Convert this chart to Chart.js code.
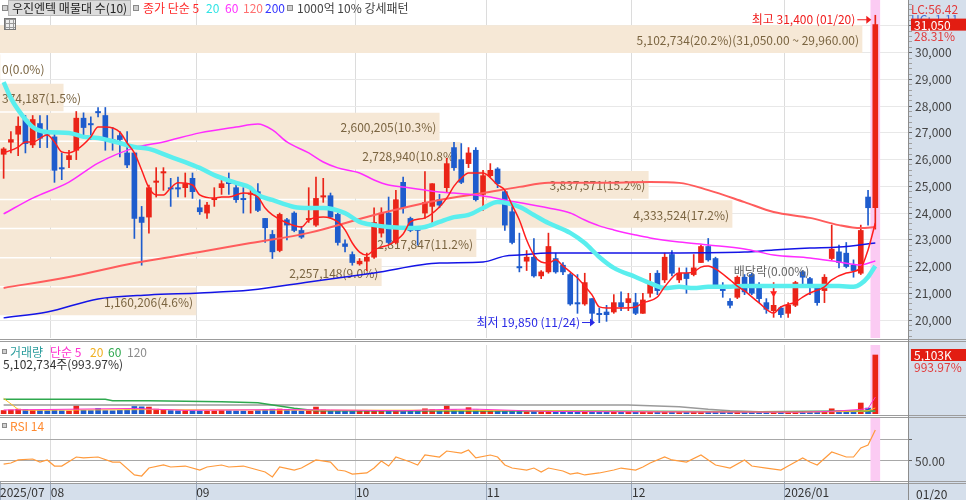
<!DOCTYPE html>
<html>
<head>
<meta charset="utf-8">
<script src="https://cdn.jsdelivr.net/npm/chart.js@4.4.1/dist/chart.umd.min.js"></script>
<style>
  body { margin: 0; width: 966px; height: 500px; position: relative; overflow: hidden; background: #fff;
         font-family: "Liberation Sans Narrow", "Noto Sans CJK KR", sans-serif; }
  canvas { position: absolute; left: 0; }
  .abs { position: absolute; white-space: nowrap; }
  .hline { position: absolute; left: 0; width: 966px; height: 1px; background: #9c9c9c; z-index: 5; }
  .sq { position: absolute; width: 4px; height: 4px; border: 1px solid #8a8a8a; background: #d0d0d0; }
  .hd { position: absolute; top: 1px; font-size: 12px; line-height: 14px; white-space: nowrap; }
</style>
</head>
<body>
<div class="abs" style="left:908px;top:0;width:58px;height:500px;background:#d5dfeb"></div>
<div class="abs" style="left:0;top:483px;width:966px;height:17px;background:#d5dfeb"></div>

<canvas id="bg" width="966" height="340" style="top:0"></canvas>
<canvas id="price" width="966" height="340" style="top:0"></canvas>
<canvas id="vol" width="966" height="74" style="top:342px"></canvas>
<canvas id="rsi" width="966" height="83" style="top:417px"></canvas>

<div class="hline" style="top:339px"></div>
<div class="hline" style="top:341px"></div>
<div class="hline" style="top:415px"></div>
<div class="hline" style="top:417px"></div>
<div class="hline" style="top:481px"></div>
<div class="hline" style="top:483px"></div>
<div class="abs" style="left:908px;top:0;width:1px;height:500px;background:#8c8c8c;z-index:5"></div>

<div class="sq" style="left:2px;top:5px"></div>
<div class="hd" style="left:8px;top:0;height:14px;padding:0 3px;background:#dcdcdc;border:1px solid #b8b8b8;color:#222">우진엔텍 매물대 수(10)</div>
<div class="sq" style="left:133px;top:5px"></div>
<div class="hd" style="left:143px;color:#ff2a2a">종가 단순 5</div>
<div class="hd" style="left:206px;color:#30e4e4">20</div>
<div class="hd" style="left:225px;color:#ff30ff">60</div>
<div class="hd" style="left:243px;color:#ff7070">120</div>
<div class="hd" style="left:265px;color:#3434ff">200</div>
<div class="sq" style="left:287px;top:5px"></div>
<div class="hd" style="left:297px;color:#444">1000억 10% 강세패턴</div>
<div class="abs" style="left:4px;top:18px;width:10px;height:10px;border:1px solid #777;background:#eee;
  background-image:linear-gradient(#999 1px,transparent 1px),linear-gradient(90deg,#999 1px,transparent 1px);background-size:4px 4px"></div>
<div class="abs" style="left:916px;top:485px;font-size:12px;color:#333">01/20</div>

<script>
// month boundaries on the index axis and their labels
const monthTicks = [-0.5, 6.5, 26.5, 48.5, 66.5, 86.5, 107.5];
const monthLabels = ['2025/07', '08', '09', '10', '11', '12', '2026/01'];

// daily candles 2025/07/24 .. 2026/01/20
const openP = [
  26200,26650,26950,27500,26550,27350,27050,26850,25700,26000,
  26350,27550,27350,27800,27650,26750,26900,26250,26250,23850,
  23850,25150,25500,24950,24950,24950,25300,24200,24000,24500,
  24950,25250,24950,24550,24700,24800,23800,23200,22600,23750,
  24000,23350,23750,23550,24600,24650,23950,22850,22450,22100,
  22200,22350,23250,24000,22900,25150,23800,23450,24000,24250,
  24500,24950,26450,26000,25850,26350,24700,25400,25650,24800,
  24050,22000,22200,22350,21650,21800,22300,22050,21700,20650,
  20600,20800,20250,20300,20300,20650,20650,20650,20250,21000,
  21750,21500,22450,21500,21750,21700,22150,22750,22300,21250,
  20700,20850,21600,21700,21200,20650,20350,20450,20250,20550,
  21800,21550,21250,21100,22300,22550,22500,22050,21750,24600,
  24200];
const highP = [
  26450,27050,27600,27650,27650,27650,27650,27050,26250,26350,
  27800,27750,27600,27950,27950,27200,27050,27050,26250,24250,
  25050,25700,25700,25300,25350,25500,25500,24500,24400,24950,
  25250,25500,25100,24950,24950,25100,23800,23350,24000,23800,
  24050,23500,24950,25350,25300,24750,24000,23000,22550,22300,
  22500,24200,24200,24600,24850,25350,23850,23500,25550,25100,
  24700,26050,26650,26600,26450,26450,25600,25850,25700,24850,
  24300,23250,22600,23050,21850,23250,22500,22150,21750,21700,
  21750,20800,20450,20550,20950,21050,21000,21000,21000,21750,
  21850,22500,22600,21950,21950,22450,22800,23050,22350,21400,
  20800,21650,21700,21750,21400,20800,21400,20500,20650,21450,
  21850,21600,21300,21700,23550,22800,22900,22250,23550,24850,
  31400];
const lowP = [
  25300,26250,26150,26250,26450,26450,26450,25150,25250,25700,
  26000,26850,26750,27600,26350,26350,26100,25700,23050,22050,
  23250,24600,24850,24250,24600,24600,24550,23950,23800,24250,
  24700,24700,24400,24000,24000,24050,22900,22300,22550,23000,
  23300,23050,23650,23500,24400,23800,22800,22550,22050,22050,
  21850,22300,23100,22850,22850,24000,23300,22800,23800,23500,
  24200,24800,25600,25100,25700,24450,24100,25350,24950,23350,
  22850,21800,21850,21600,21550,21750,21750,21700,20550,20250,
  20550,19850,19900,19950,20250,20350,20350,20200,20250,20850,
  20950,21400,21650,21400,21000,21650,22150,22200,21200,20850,
  20450,20800,20950,20950,20650,20250,20100,20100,20100,20500,
  21250,20950,20550,20650,22250,21950,21950,21600,21700,23550,
  23400];
const closeP = [
  26400,26750,27250,26600,27500,26800,26950,25600,25650,26150,
  27550,27200,27300,27750,26750,26650,26750,25800,23800,23650,
  24950,25200,25550,24900,24900,25100,24800,24050,24300,24550,
  25100,25100,24500,24500,24750,24100,23450,22550,23950,23550,
  23350,23100,23800,24550,24650,23850,22900,22750,22150,22200,
  22350,23650,24000,22900,24500,24200,23350,23350,24400,25100,
  24300,25850,25700,25150,26250,24500,25400,25600,25100,23550,
  22900,21950,22350,21650,21800,22750,21800,21800,20600,20600,
  21400,20250,20200,20200,20650,20500,20800,20250,20750,21400,
  21100,22350,21750,21750,21550,21950,22750,22250,21250,21100,
  20550,21600,21050,21000,20800,20400,20550,20200,20550,21400,
  21600,21250,20650,21600,22650,22150,22000,21850,23350,24200,
  31050];
const volume = [
  300000,350000,420000,380000,330000,300000,280000,320000,280000,260000,
  700000,320000,300000,480000,300000,280000,320000,350000,650000,620000,
  600000,420000,350000,300000,280000,300000,280000,260000,250000,260000,
  300000,280000,260000,250000,240000,300000,350000,420000,430000,400000,
  300000,250000,280000,600000,350000,300000,280000,250000,240000,230000,
  250000,300000,280000,260000,300000,280000,250000,240000,450000,380000,
  250000,700000,350000,300000,550000,350000,300000,280000,250000,300000,
  280000,250000,200000,220000,200000,260000,200000,190000,230000,220000,
  200000,220000,200000,180000,200000,170000,160000,170000,160000,200000,
  190000,220000,180000,170000,160000,170000,200000,180000,170000,160000,
  150000,180000,160000,150000,150000,140000,160000,150000,140000,170000,
  160000,150000,160000,170000,450000,250000,200000,180000,950000,513370,
  5102734];

// moving averages: [candle index, value]
const ma5 = [[0,26250],[2,26470],[3,26660],[4,26660],[6,26920],[7,26660],[8,26290],[9,26250],[10,26360],[12,26850],[13,27220],[14,27220],[16,27030],[17,26620],[18,26250],[19,25610],[20,24940],[21,24680],[22,24680],[23,24940],[24,25130],[26,25050],[27,24680],[29,24560],[30,24600],[31,24600],[33,24750],[35,24600],[36,24190],[37,23930],[39,23630],[41,23480],[42,23740],[44,23850],[46,23670],[47,23370],[48,22880],[49,22540],[50,22430],[51,22620],[52,22730],[53,22810],[55,23220],[56,23670],[58,23820],[60,24230],[61,24560],[62,25010],[63,25310],[64,25500],[66,25500],[68,25050],[69,24860],[70,24300],[71,23740],[72,22990],[73,22430],[74,22170],[75,22130],[76,22250],[77,22020],[78,21800],[79,21570],[80,21270],[81,20940],[82,20490],[83,20450],[85,20450],[87,20490],[88,20640],[90,20860],[91,21240],[93,21760],[94,21760],[95,21800],[96,21980],[97,22020],[98,21910],[100,21500],[101,21270],[102,21090],[104,20640],[106,20260],[107,20490],[109,20670],[110,20860],[111,21010],[113,21240],[114,21500],[116,21760],[118,21950],[119,22620],[120,23630]];
const ma20 = [[0,28900],[1,28300],[2,27860],[4,27220],[6,27030],[9,27000],[11,26850],[13,26810],[16,26620],[18,26470],[20,26400],[23,26100],[25,25910],[27,25690],[29,25420],[32,25130],[34,24940],[35,24680],[37,24490],[40,24230],[42,24190],[44,24190],[47,24000],[49,23670],[51,23550],[53,23480],[56,23440],[58,23480],[60,23670],[62,23850],[64,23930],[66,24190],[68,24410],[71,24230],[73,23930],[75,23630],[78,23260],[80,22880],[82,22360],[84,21950],[87,21610],[89,21380],[91,21200],[93,21240],[95,21200],[97,21240],[99,21240],[102,21270],[106,21270],[111,21270],[115,21270],[117,21240],[118,21350],[119,21610],[120,22020]];
const ma60 = [[0,23970],[4,24560],[9,25160],[13,25870],[18,26440],[22,26660],[27,27000],[32,27220],[35,27330],[37,27110],[39,26660],[42,26250],[44,25910],[46,25690],[49,25500],[51,25240],[53,25050],[56,24940],[58,24860],[60,24790],[62,24750],[65,24680],[67,24600],[69,24490],[75,24190],[78,24000],[80,23740],[82,23520],[84,23370],[87,23180],[89,23070],[93,22920],[97,22810],[102,22660],[106,22430],[111,22320],[115,22170],[118,22060],[120,22210]];
const ma120 = [[0,21200],[9,21610],[18,22130],[27,22540],[34,22880],[42,23260],[51,23930],[60,24490],[66,24750],[71,24980],[75,25130],[82,25130],[89,25160],[93,25130],[97,24860],[102,24410],[106,24040],[111,23820],[115,23550],[118,23440],[120,23480]];
const ma200 = [[0,20080],[6,20300],[13,20790],[20,20940],[27,21010],[34,21120],[42,21420],[51,21760],[60,22130],[66,22170],[69,22390],[71,22430],[75,22510],[82,22510],[89,22510],[93,22510],[102,22540],[106,22620],[111,22690],[115,22730],[120,22880]];

const volMa5 = [[0,350000],[10,420000],[18,480000],[25,320000],[38,380000],[45,350000],[55,280000],[61,400000],[65,420000],[75,220000],[90,180000],[110,160000],[114,230000],[118,400000],[119,480000],[120,1460000]];
const volMa20 = [[0,1350000],[2,400000],[3,320000],[20,380000],[40,330000],[60,330000],[70,300000],[90,200000],[110,170000],[118,250000],[119,280000],[120,520000]];
const volMa60 = [[0,1270000],[14,1270000],[15,1150000],[20,1150000],[30,1065000],[35,980000],[40,490000],[43,290000],[78,260000],[104,200000],[120,260000]];
const volMa120 = [[0,780000],[86,780000],[93,635000],[97,405000],[100,290000],[104,200000],[120,230000]];

const rsi14 = [[0,47.1],[1,48.1],[2,51.0],[4,51.9],[5,49.0],[6,51.0],[7,45.2],[8,45.2],[10,53.8],[11,52.9],[13,53.8],[15,49.0],[16,49.0],[18,36.7],[19,35.7],[20,43.3],[22,46.2],[23,44.3],[25,45.2],[27,41.4],[28,44.3],[30,46.2],[31,44.3],[33,45.2],[34,43.3],[36,39.5],[37,34.8],[38,44.3],[40,41.4],[41,43.3],[43,51.0],[45,49.0],[46,41.4],[47,40.5],[48,37.6],[50,38.6],[51,43.3],[52,50.0],[53,45.2],[54,53.8],[56,49.0],[57,46.2],[58,55.7],[60,53.8],[61,59.5],[63,57.6],[64,60.5],[65,52.9],[67,55.7],[68,53.8],[69,46.2],[70,43.3],[72,41.4],[73,43.3],[74,39.5],[75,43.3],[77,40.5],[78,37.6],[79,38.6],[80,36.7],[82,38.6],[84,41.4],[85,43.3],[87,41.4],[88,44.3],[89,48.1],[91,53.8],[92,51.0],[94,49.0],[96,55.7],[98,46.2],[100,43.3],[102,51.0],[103,45.2],[105,43.3],[107,41.4],[108,45.2],[110,52.9],[111,49.0],[112,46.2],[114,58.6],[116,53.8],[117,53.8],[118,62.4],[119,65.2],[120,79.5]];

// volume profile (매물대), top band first
const profHigh = [31050, 29960, 28870, 27780, 26690, 25600, 24510, 23420, 22330, 21240];
const profLow  = [29960, 28870, 27780, 26690, 25600, 24510, 23420, 22330, 21240, 20150];
const profVol  = [5102734, 0, 374187, 2600205, 2728940, 3837571, 4333524, 2817847, 2257148, 1160206];
const profPct  = [20.2, 0.0, 1.5, 10.3, 10.8, 15.2, 17.2, 11.2, 9.0, 4.6];

const hiIdx = 120, hiPrice = 31400, hiDate = '01/20';
const loIdx = 81, loPrice = 19850, loDate = '11/24';
const exDivIdx = 106, exDivPrice = 21000;
const lastChange = '28.31%', volChange = '993.97%';

// ---------------------------------------------------------------
const FONT = '"Liberation Sans Narrow", "Noto Sans CJK KR", sans-serif';
const RED = '#ea2418', BLUE = '#1e5ccd', PINK = '#fbcbf3';
const N = closeP.length;
const X_MIN = -0.5, X_MAX = 124.5;
const P_MIN = 19327, P_MAX = 31971;
const V_MAX = 5967600;
const R_MIN = 30.95, R_MAX = 90.95;
const candleColor = closeP.map((c, i) => c >= openP[i] ? RED : BLUE);
const fmt = v => v.toLocaleString('en-US');
const CLEAR = 'rgba(0,0,0,0)';

const priceMinor = [];
for (let v = 19400; v <= 31800; v += 200) priceMinor.push(v);
const priceMajor = [];
for (let v = 20000; v <= 31000; v += 1000) priceMajor.push(v);

function fixRight(w) { return s => { s.width = w; s.paddingTop = 0; s.paddingBottom = 0; }; }
function fixBottom(h) { return s => { s.height = h; s.paddingLeft = 0; s.paddingRight = 0; }; }
function setTicks(list) { return s => { s.ticks = list.map(v => ({ value: v })); }; }

function lineDs(pairs, color, width, yId) {
  return {
    type: 'line', data: pairs.map(p => ({ x: p[0], y: p[1] })),
    borderColor: color, borderWidth: width, pointRadius: 0,
    cubicInterpolationMode: 'monotone', order: 0, xAxisID: 'x', yAxisID: yId || 'y'
  };
}
function bandDs(lo, hi) {
  return { type: 'bar', data: [{ x: N - 1, y: [lo, hi] }], backgroundColor: PINK,
           barThickness: 9, grouped: false, order: 9 };
}
function monthX(showGrid) {
  return {
    type: 'linear', min: X_MIN, max: X_MAX, offset: false,
    afterBuildTicks: setTicks(monthTicks),
    ticks: { display: false },
    grid: { display: showGrid, offset: false, drawTicks: false,
            color: c => (c.tick && c.tick.value > 0) ? '#dcdcdc' : CLEAR },
    border: { display: false },
    afterFit: fixBottom(0)
  };
}
const base = {
  responsive: false, animation: false, events: [], devicePixelRatio: 1,
  plugins: { legend: { display: false }, tooltip: { enabled: false } }
};

function txt(ctx, s, x, y, color, align, size) {
  ctx.font = (size || 12) + 'px ' + FONT;
  ctx.fillStyle = color;
  ctx.textAlign = align || 'left';
  ctx.textBaseline = 'middle';
  ctx.fillText(s, x, y);
}

// ---------- background: volume profile bands + grid ----------
const profileLabels = {
  id: 'profileLabels',
  afterDraw(chart) {
    const ctx = chart.ctx, left = chart.chartArea.left;
    const meta = chart.getDatasetMeta(0);
    ctx.save();
    ctx.font = '12px ' + FONT;
    meta.data.forEach((bar, i) => {
      let s = fmt(profVol[i]) + '(' + profPct[i].toFixed(1) + '%)';
      if (i === 0) s += '(' + fmt(profHigh[0]) + '.00 ~ ' + fmt(profLow[0]) + '.00)';
      const w = ctx.measureText(s).width;
      if (bar.x - left > w + 6) txt(ctx, s, bar.x - 3, bar.y + 1, '#7a6440', 'right');
      else txt(ctx, s, left + 2, bar.y + 1, '#7a6440', 'left');
    });
    ctx.restore();
  }
};

new Chart(document.getElementById('bg'), {
  type: 'bar',
  data: { datasets: [{
    data: profVol.map((v, i) => ({ x: v, y: (profHigh[i] + profLow[i]) / 2 })),
    xAxisID: 'xv', yAxisID: 'y', backgroundColor: '#f6e8d6', barThickness: 27, grouped: false
  }]},
  options: Object.assign({}, base, {
    indexAxis: 'y',
    layout: { autoPadding: false, padding: { left: 0, right: 0, top: 0, bottom: 2 } },
    scales: {
      x: Object.assign(monthX(true), { z: 1 }),
      xv: { type: 'linear', axis: 'x', display: false, min: 0, max: 5375000, offset: false },
      y: {
        type: 'linear', position: 'right', min: P_MIN, max: P_MAX, offset: false, z: 1,
        afterBuildTicks: setTicks(priceMajor),
        ticks: { color: CLEAR, autoSkip: false },
        grid: { offset: false, drawTicks: false, color: '#e8e8e8' },
        border: { display: false },
        afterFit: fixRight(58)
      }
    }
  }),
  plugins: [profileLabels]
});

// ---------- price: candles + moving averages ----------
const priceNotes = {
  id: 'priceNotes',
  afterDraw(chart) {
    const ctx = chart.ctx, xs = chart.scales.x, ys = chart.scales.y;
    ctx.save();
    // highest
    const hx = xs.getPixelForValue(hiIdx), hy = ys.getPixelForValue(hiPrice) + 4;
    txt(ctx, '최고 ' + fmt(hiPrice) + ' (' + hiDate + ')', hx - 20, hy, '#f01c1c', 'right');
    ctx.strokeStyle = '#f01c1c'; ctx.fillStyle = '#f01c1c'; ctx.lineWidth = 1;
    ctx.beginPath(); ctx.moveTo(hx - 18, hy + 0.5); ctx.lineTo(hx - 7, hy + 0.5); ctx.stroke();
    ctx.beginPath(); ctx.moveTo(hx - 4, hy + 0.5); ctx.lineTo(hx - 9, hy - 3.5); ctx.lineTo(hx - 9, hy + 4.5); ctx.fill();
    // lowest
    const lx = xs.getPixelForValue(loIdx), ly = ys.getPixelForValue(loPrice) - 2;
    txt(ctx, '최저 ' + fmt(loPrice) + ' (' + loDate + ')', lx - 12, ly, '#2a2ae6', 'right');
    ctx.strokeStyle = '#2a2ae6'; ctx.fillStyle = '#2a2ae6';
    ctx.beginPath(); ctx.moveTo(lx - 10, ly + 0.5); ctx.lineTo(lx, ly + 0.5); ctx.stroke();
    ctx.beginPath(); ctx.moveTo(lx + 3, ly + 0.5); ctx.lineTo(lx - 2, ly - 3.5); ctx.lineTo(lx - 2, ly + 4.5); ctx.fill();
    // ex-dividend
    const ex = xs.getPixelForValue(exDivIdx), ey = ys.getPixelForValue(exDivPrice);
    txt(ctx, '배당락(0.00%)', ex - 2, ey - 22, '#666', 'center');
    // right-axis tags
    const R = chart.chartArea.right;
    txt(ctx, 'LC:56.42', R + 3, 9, '#e23a3a', 'left');
    txt(ctx, 'HC:-1.11', R + 3, 19, '#3d6fd6', 'left');
    const cy = ys.getPixelForValue(closeP[N - 1]);
    ctx.fillStyle = '#e21d12';
    ctx.fillRect(R + 3, cy - 6, 58, 12);
    txt(ctx, fmt(closeP[N - 1]), R + 6, cy + 0.5, '#fff', 'left');
    txt(ctx, lastChange, R + 6, cy + 12, '#e23a3a', 'left');
    ctx.restore();
  }
};

new Chart(document.getElementById('price'), {
  type: 'bar',
  data: { datasets: [
    lineDs(ma5, '#ff1e1e', 1.5),
    lineDs(ma20, '#5aeeee', 4.5),
    lineDs(ma60, '#ff2cff', 1.5),
    lineDs(ma120, '#ff5c5c', 2),
    lineDs(ma200, '#1414e6', 1.5),
    { type: 'line', data: [{ x: exDivIdx, y: exDivPrice }], showLine: false, pointStyle: 'triangle',
      rotation: 180, pointRadius: 4, backgroundColor: '#ff2020', borderWidth: 0, order: 0 },
    { type: 'bar', data: closeP.map((c, i) => ({ x: i, y: [openP[i], c] })), backgroundColor: candleColor,
      barThickness: 5, minBarLength: 1, grouped: false, order: 2 },
    { type: 'bar', data: highP.map((h, i) => ({ x: i, y: [lowP[i], h] })), backgroundColor: candleColor,
      barThickness: 1, grouped: false, order: 3 },
    bandDs(P_MIN, P_MAX)
  ]},
  options: Object.assign({}, base, {
    layout: { autoPadding: false, padding: { left: 0, right: 0, top: 0, bottom: 2 } },
    scales: {
      x: monthX(false),
      y: {
        type: 'linear', position: 'right', min: P_MIN, max: P_MAX, offset: false, beginAtZero: false,
        afterBuildTicks: setTicks(priceMinor),
        ticks: { autoSkip: false, color: '#444', padding: 3, font: { family: FONT, size: 12 },
                 callback: v => (v % 1000 === 0 && v >= 20000 && v <= 30000) ? fmt(v) : '' },
        grid: { drawOnChartArea: false, offset: false, tickLength: 4,
                tickColor: c => (c.tick && c.tick.value % 1000 === 0) ? '#666' : '#a0a0a0' },
        border: { display: true, color: '#8c8c8c' },
        afterFit: fixRight(58)
      }
    }
  }),
  plugins: [priceNotes]
});

// ---------- volume ----------
const volNotes = {
  id: 'volNotes',
  afterDraw(chart) {
    const ctx = chart.ctx, ys = chart.scales.y, R = chart.chartArea.right;
    ctx.save();
    ctx.fillStyle = '#d0d0d0'; ctx.strokeStyle = '#8a8a8a';
    ctx.fillRect(2.5, 7.5, 4, 4); ctx.strokeRect(2.5, 7.5, 4, 4);
    txt(ctx, '거래량', 10, 10, '#2a9c9c');
    txt(ctx, '단순 5', 50, 10, '#ff30d0');
    txt(ctx, '20', 90, 10, '#f0b020');
    txt(ctx, '60', 108, 10, '#2ea84e');
    txt(ctx, '120', 127, 10, '#8c8c8c');
    txt(ctx, fmt(volume[N - 1]) + '주(' + volChange + ')', 3, 22, '#333');
    const vy = ys.getPixelForValue(volume[N - 1]);
    ctx.fillStyle = '#e21d12';
    ctx.fillRect(R + 3, vy - 6, 58, 12);
    txt(ctx, Math.round(volume[N - 1] / 1000).toLocaleString('en-US') + 'K', R + 6, vy + 0.5, '#fff');
    txt(ctx, volChange, R + 6, vy + 12, '#e23a3a');
    ctx.restore();
  }
};

new Chart(document.getElementById('vol'), {
  type: 'bar',
  data: { datasets: [
    Object.assign(lineDs(volMa5, '#ff33cc', 1), { cubicInterpolationMode: 'default', tension: 0 }),
    Object.assign(lineDs(volMa20, '#ffc020', 1), { cubicInterpolationMode: 'default', tension: 0 }),
    Object.assign(lineDs(volMa60, '#2ea84e', 1.5), { cubicInterpolationMode: 'default', tension: 0 }),
    Object.assign(lineDs(volMa120, '#9a9a9a', 1.5), { cubicInterpolationMode: 'default', tension: 0 }),
    { type: 'bar', data: volume.map((v, i) => ({ x: i, y: v })), backgroundColor: candleColor,
      barThickness: 5, grouped: false, order: 2 },
    bandDs(0, V_MAX)
  ]},
  options: Object.assign({}, base, {
    layout: { autoPadding: false, padding: { left: 0, right: 0, top: 3, bottom: 2 } },
    scales: {
      x: monthX(true),
      y: {
        type: 'linear', position: 'right', min: 0, max: V_MAX, offset: false,
        ticks: { display: false }, grid: { display: false },
        border: { display: true, color: '#8c8c8c' },
        afterFit: fixRight(58)
      }
    }
  }),
  plugins: [volNotes]
});

// ---------- RSI + date axis ----------
const rsiNotes = {
  id: 'rsiNotes',
  afterDraw(chart) {
    const ctx = chart.ctx;
    ctx.save();
    ctx.fillStyle = '#d0d0d0'; ctx.strokeStyle = '#8a8a8a';
    ctx.fillRect(2.5, 6.5, 4, 4); ctx.strokeRect(2.5, 6.5, 4, 4);
    txt(ctx, 'RSI 14', 10, 9, '#ff8a30');
    ctx.restore();
  }
};

new Chart(document.getElementById('rsi'), {
  type: 'bar',
  data: { datasets: [
    Object.assign(lineDs(rsi14, '#ff9a3c', 1.2), { cubicInterpolationMode: 'default', tension: 0 }),
    bandDs(R_MIN, R_MAX)
  ]},
  options: Object.assign({}, base, {
    layout: { autoPadding: false, padding: { left: 0, right: 0, top: 1, bottom: 0 } },
    scales: {
      x: {
        type: 'linear', position: 'bottom', min: X_MIN, max: X_MAX, offset: false,
        afterBuildTicks: setTicks(monthTicks),
        ticks: { autoSkip: false, maxRotation: 0, align: 'start', padding: -15, color: '#333',
                 font: { family: FONT, size: 12 },
                 callback: (v, i) => monthLabels[i] },
        grid: { offset: false, tickLength: 19, tickColor: '#9aa8bb',
                color: c => (c.tick && c.tick.value > 0) ? '#dcdcdc' : CLEAR },
        border: { display: false },
        afterFit: fixBottom(19)
      },
      y: {
        type: 'linear', position: 'right', min: R_MIN, max: R_MAX, offset: false,
        afterBuildTicks: setTicks([50, 70]),
        ticks: { autoSkip: false, color: '#444', padding: 3, font: { family: FONT, size: 12 },
                 callback: v => v === 50 ? '50.00' : '' },
        grid: { offset: false, tickLength: 4, color: '#a8a8a8', tickColor: '#666' },
        border: { display: true, color: '#8c8c8c' },
        afterFit: fixRight(58)
      }
    }
  }),
  plugins: [rsiNotes]
});
</script>
</body>
</html>
